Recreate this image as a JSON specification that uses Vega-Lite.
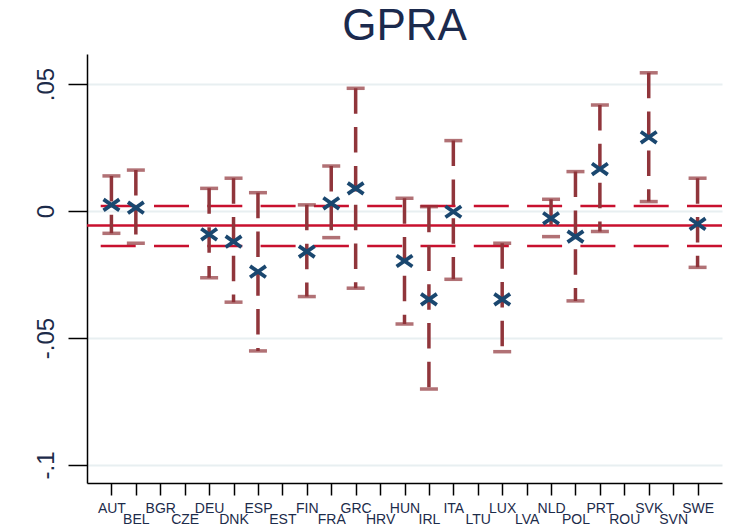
{
  "$schema": "https://vega.github.io/schema/vega-lite/v6.json",
  "width": 635,
  "height": 429,
  "autosize": {"type": "none"},
  "padding": {"left": 87, "top": 54, "right": 9, "bottom": 44},
  "background": "white",
  "title": {
    "text": "GPRA",
    "font": "Liberation Sans",
    "fontSize": 44,
    "fontWeight": "normal",
    "color": "#1b2a4d",
    "anchor": "middle",
    "frame": "group",
    "baseline": "bottom",
    "offset": -39
  },
  "config": {
    "view": {"stroke": null},
    "axis": {
      "title": null,
      "labelFont": "Liberation Sans",
      "labelColor": "#1c2b4a",
      "domainColor": "#000000",
      "domainWidth": 1.5,
      "tickColor": "#000000",
      "tickWidth": 1.5,
      "labelOverlap": false,
      "labelBound": false,
      "labelFlush": false
    }
  },
  "datasets": {
    "coef": [
      {"country": "AUT", "est": 0.0024, "lo": -0.0088, "hi": 0.0138},
      {"country": "BEL", "est": 0.0013, "lo": -0.0127, "hi": 0.0161},
      {"country": "DEU", "est": -0.0092, "lo": -0.0263, "hi": 0.0089},
      {"country": "DNK", "est": -0.0121, "lo": -0.0359, "hi": 0.0129},
      {"country": "ESP", "est": -0.0239, "lo": -0.0551, "hi": 0.0072},
      {"country": "FIN", "est": -0.0160, "lo": -0.0337, "hi": 0.0024},
      {"country": "FRA", "est": 0.0030, "lo": -0.0105, "hi": 0.0177},
      {"country": "GRC", "est": 0.0089, "lo": -0.0304, "hi": 0.0483},
      {"country": "HUN", "est": -0.0197, "lo": -0.0445, "hi": 0.0050},
      {"country": "IRL", "est": -0.0348, "lo": -0.0701, "hi": 0.0017},
      {"country": "ITA", "est": -0.0003, "lo": -0.0269, "hi": 0.0277},
      {"country": "LUX", "est": -0.0348, "lo": -0.0554, "hi": -0.0127},
      {"country": "NLD", "est": -0.0029, "lo": -0.0101, "hi": 0.0046},
      {"country": "POL", "est": -0.0101, "lo": -0.0354, "hi": 0.0155},
      {"country": "PRT", "est": 0.0165, "lo": -0.0081, "hi": 0.0417},
      {"country": "SVK", "est": 0.0290, "lo": 0.0037, "hi": 0.0544},
      {"country": "SWE", "est": -0.0051, "lo": -0.0222, "hi": 0.0129}
    ],
    "pooled": [
      {"mean": -0.0057, "lo": -0.0138, "hi": 0.0020}
    ]
  },
  "layer": [
    {
      "data": {"name": "pooled"},
      "mark": {"type": "rule", "color": "#c8102e", "strokeWidth": 2.5},
      "encoding": {
        "y": {
          "field": "mean",
          "type": "quantitative",
          "scale": {"domain": [-0.1071, 0.0618], "nice": false, "zero": false},
          "axis": {
            "values": [-0.1, -0.05, 0, 0.05],
            "grid": true,
            "gridColor": "#e8eff1",
            "gridWidth": 2,
            "tickSize": 19,
            "labelAngle": 270,
            "labelFontSize": 24,
            "labelPadding": 15,
            "labelAlign": "center",
            "labelBaseline": "alphabetic",
            "labelExpr": "datum.value > 0.04 ? '.05' : datum.value > -0.01 ? '0' : datum.value > -0.06 ? '-.05' : '-.1'"
          }
        }
      }
    },
    {
      "data": {"name": "pooled"},
      "mark": {"type": "rule", "color": "#c8102e", "strokeWidth": 2.5, "strokeDash": [35, 18.3]},
      "encoding": {"y": {"field": "lo", "type": "quantitative"}}
    },
    {
      "data": {"name": "pooled"},
      "mark": {"type": "rule", "color": "#c8102e", "strokeWidth": 2.5, "strokeDash": [35, 18.3]},
      "encoding": {"y": {"field": "hi", "type": "quantitative"}}
    },
    {
      "data": {"name": "coef"},
      "mark": {"type": "rule", "color": "#90353b", "strokeWidth": 3.5, "strokeDash": [25.5, 13.3]},
      "encoding": {
        "x": {
          "field": "country",
          "type": "nominal",
          "scale": {
            "type": "point",
            "padding": 1.08,
            "domain": ["AUT", "BEL", "BGR", "CZE", "DEU", "DNK", "ESP", "EST", "FIN", "FRA", "GRC", "HRV", "HUN", "IRL", "ITA", "LTU", "LUX", "LVA", "NLD", "POL", "PRT", "ROU", "SVK", "SVN", "SWE"]
          },
          "axis": {
            "tickSize": 12,
            "labelAngle": 0,
            "labelFontSize": 14,
            "labelAlign": "center",
            "labelBaseline": "top",
            "grid": false,
            "labelPadding": {
              "condition": {
                "test": "indexof(['BEL','CZE','DNK','EST','FRA','HRV','IRL','LTU','LVA','POL','ROU','SVN'], datum.value) >= 0",
                "value": 17
              },
              "value": 6
            }
          }
        },
        "y": {"field": "hi", "type": "quantitative"},
        "y2": {"field": "lo"}
      }
    },
    {
      "data": {"name": "coef"},
      "mark": {"type": "tick", "orient": "horizontal", "color": "#90353b", "size": 18, "thickness": 3.5},
      "encoding": {
        "x": {"field": "country", "type": "nominal"},
        "y": {"field": "hi", "type": "quantitative"}
      }
    },
    {
      "data": {"name": "coef"},
      "mark": {"type": "tick", "orient": "horizontal", "color": "#90353b", "size": 18, "thickness": 3.5},
      "encoding": {
        "x": {"field": "country", "type": "nominal"},
        "y": {"field": "lo", "type": "quantitative"}
      }
    },
    {
      "data": {"name": "coef"},
      "mark": {
        "type": "point",
        "shape": "M-1,-0.7L1,0.7M-1,0.7L1,-0.7",
        "filled": false,
        "stroke": "#1a476f",
        "strokeWidth": 3.8,
        "size": 250,
        "opacity": 1
      },
      "encoding": {
        "x": {"field": "country", "type": "nominal"},
        "y": {"field": "est", "type": "quantitative"}
      }
    }
  ]
}
